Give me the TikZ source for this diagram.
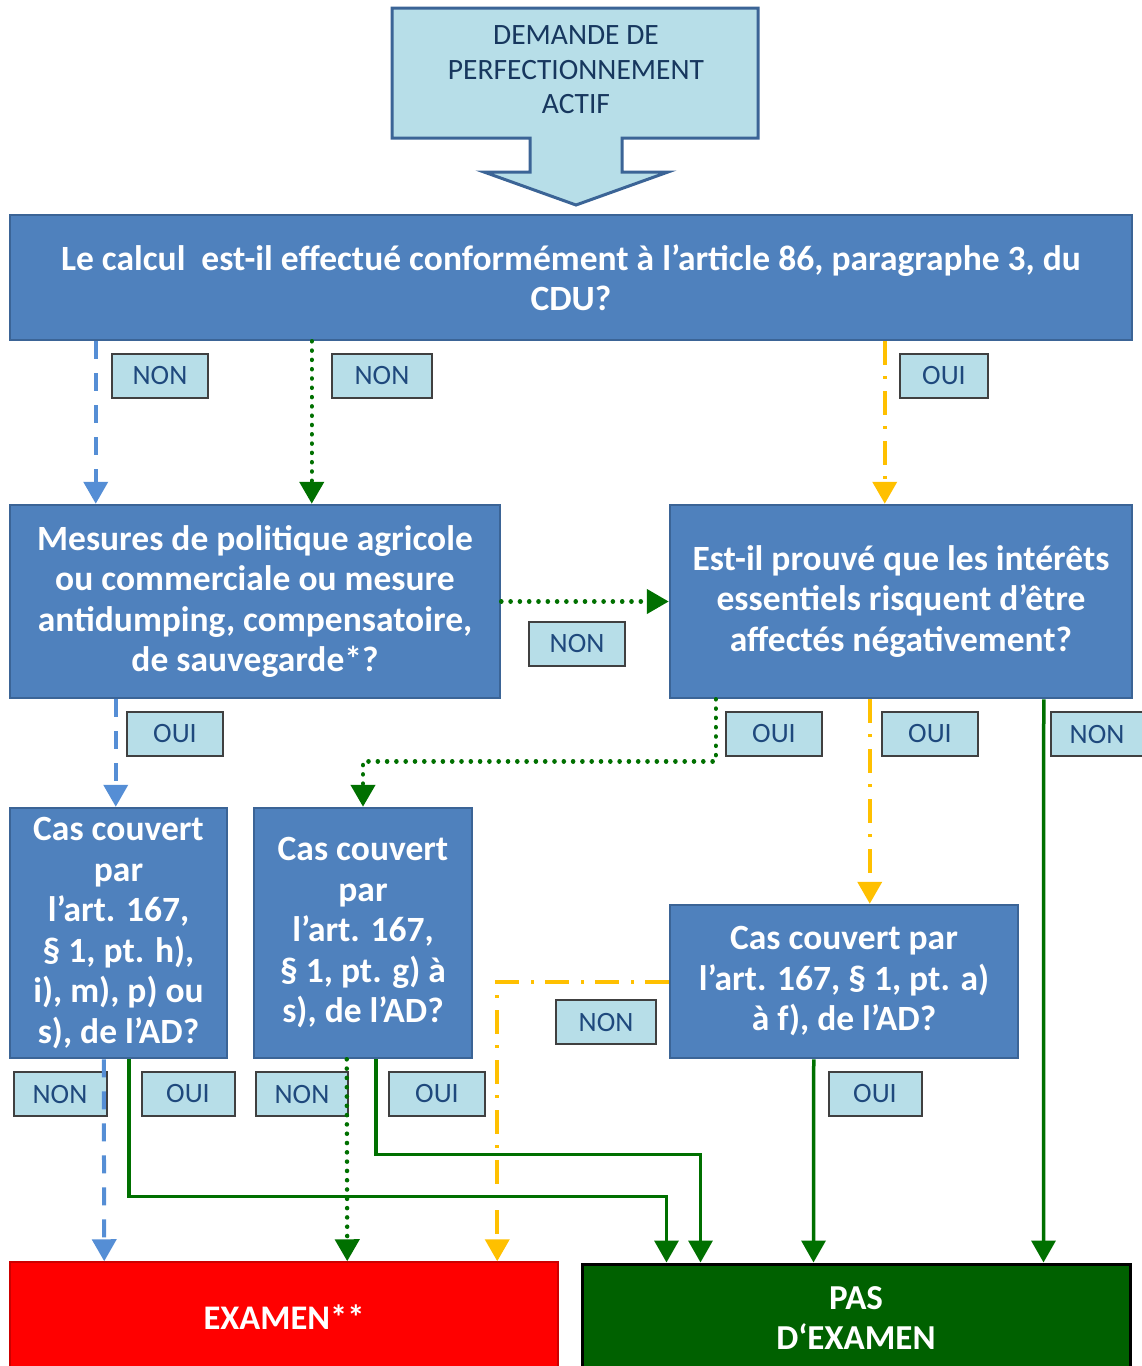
\documentclass[tikz,border=0pt]{standalone}
\usepackage{fontspec}
\setmainfont{Carlito}
\usepackage{xcolor}
\usetikzlibrary{arrows.meta}

\definecolor{qblue}{HTML}{4F81BD}
\definecolor{qborder}{HTML}{3B6496}
\definecolor{paleblue}{HTML}{B7DEE8}
\definecolor{navy}{HTML}{17375E}
\definecolor{lbltext}{HTML}{1F497D}
\definecolor{lineblue}{HTML}{558ED5}
\definecolor{linegreen}{HTML}{007000}
\definecolor{lineyellow}{HTML}{FFC000}
\definecolor{examred}{HTML}{FF0000}
\definecolor{pasgreen}{HTML}{006100}

\tikzset{
	qbox/.style={draw=qborder, fill=qblue, line width=2.5, text=white, align=center,
		inner sep=0, font=\bfseries\fontsize{35.5}{40.5}\selectfont},
	lbl/.style={draw=black!75, fill=paleblue, line width=2, text=lbltext,
		minimum width=96, minimum height=44, inner sep=0, font=\fontsize{28}{30}\selectfont},
	tip/.style={-{Triangle[width=24,length=22]}},
	bluedash/.style={tip, draw=lineblue, line width=4, dash pattern=on 18 off 14},
	greendot/.style={tip, draw=linegreen, line width=4.5, line cap=round, dash pattern=on 0.1 off 9.2},
	yellowdot/.style={tip, draw=lineyellow, line width=4, dash pattern=on 24 off 11 on 3 off 12},
	greenline/.style={tip, draw=linegreen, line width=3.5},
}

\begin{document}
\begin{tikzpicture}[x=1pt, y=-1pt]
	\useasboundingbox (0,0) rectangle (1142,1366);

	% Start arrow
	\draw[fill=paleblue, draw=qborder, line width=3]
		(392,8) -- (758,8) -- (758,138) -- (622,138) -- (622,172) -- (668,172)
		-- (576,205) -- (484,172) -- (530,172) -- (530,138) -- (392,138) -- cycle;
	\node[text=navy, align=center, font=\fontsize{29.5}{34.5}\selectfont] (start) at (576,70)
		{DEMANDE DE\\PERFECTIONNEMENT\\ACTIF};

	% Questions
	\node[qbox, minimum width=1122, minimum height=125] (q1) at (571,277.5)
		{Le calcul\ \ est-il effectué conformément à l’article 86, paragraphe 3, du\\CDU?};
	\node[qbox, minimum width=490, minimum height=193] (q2) at (255,601.5)
		{Mesures de politique agricole\\ou commerciale ou mesure\\antidumping, compensatoire,\\de sauvegarde*?};
	\node[qbox, minimum width=462, minimum height=193] (q3) at (901,601.5)
		{Est-il prouvé que les intérêts\\essentiels risquent d’être\\affectés négativement?};
	\node[qbox, minimum width=217, minimum height=250] (q4) at (118.5,933)
		{Cas couvert\\par\\l’art. 167,\\§ 1, pt. h),\\i), m), p) ou\\s), de l’AD?};
	\node[qbox, minimum width=218, minimum height=250] (q5) at (363,933)
		{Cas couvert\\par\\l’art. 167,\\§ 1, pt. g) à\\s), de l’AD?};
	\node[qbox, minimum width=348, minimum height=153] (q6) at (844,981.5)
		{Cas couvert par\\l’art. 167, § 1, pt. a)\\à f), de l’AD?};

	% Results
	\node[draw=red!80!black, fill=examred, line width=1.5, text=white, minimum width=548,
		minimum height=110, font=\bfseries\fontsize{34.5}{40}\selectfont] (exam) at (284,1317) {EXAMEN**};
	\node[draw=black, fill=pasgreen, line width=3, text=white, align=center, minimum width=548,
		minimum height=108, font=\bfseries\fontsize{35}{40}\selectfont] (pas) at (856,1318) {PAS\\D‘EXAMEN};

	% Labels
	\node[lbl] (n1) at (160,376) {NON};
	\node[lbl, minimum width=100] (n2) at (382,376) {NON};
	\node[lbl, minimum width=88] (o1) at (944,376) {OUI};
	\node[lbl] (n3) at (577,644) {NON};
	\node[lbl] (o2) at (175,734) {OUI};
	\node[lbl] (o3) at (774,734) {OUI};
	\node[lbl] (o4) at (930,734) {OUI};
	\node[lbl, minimum width=92] (n4) at (1097,734) {NON};
	\node[lbl, minimum width=100] (n5) at (606,1022) {NON};
	\node[lbl, minimum width=93] (n6) at (60,1094) {NON};
	\node[lbl, minimum width=93] (o5) at (188,1094) {OUI};
	\node[lbl, minimum width=92] (n7) at (302,1094) {NON};
	\node[lbl] (o6) at (437,1094) {OUI};
	\node[lbl, minimum width=93] (o7) at (875,1094) {OUI};

	% Connectors
	\draw[bluedash] ([xshift=87]q1.south west) -- ([xshift=87]q2.north west);
	\draw[greendot] ([xshift=303]q1.south west) -- ([xshift=303]q2.north west);
	\draw[yellowdot] ([xshift=876]q1.south west) -- ([xshift=216]q3.north west);
	\draw[greendot] (q2.east) -- (q3.west);
	\draw[bluedash] ([xshift=107]q2.south west) -- ([xshift=107]q4.north west);
	\draw[greendot] ([xshift=47]q3.south west) -- ++(0,62) -| (q5.north);
	\draw[yellowdot] ([xshift=201]q3.south west) -- ([xshift=201]q6.north west);
	\draw[greenline] ([xshift=375]q3.south west) -- ([xshift=463]pas.north west);
	\draw[yellowdot] (q6.west) -| ([xshift=488]exam.north west);
	\draw[greenline] ([xshift=145]q6.south west) -- ([xshift=233]pas.north west);
	\draw[bluedash] ([xshift=95]q4.south west) -- ([xshift=95]exam.north west);
	\draw[greenline] ([xshift=120]q4.south west) -- ++(0,137) -| ([xshift=86]pas.north west);
	\draw[greendot] ([xshift=94]q5.south west) -- ([xshift=338]exam.north west);
	\draw[greenline] ([xshift=123]q5.south west) -- ++(0,95) -| ([xshift=120]pas.north west);

\end{tikzpicture}
\end{document}
